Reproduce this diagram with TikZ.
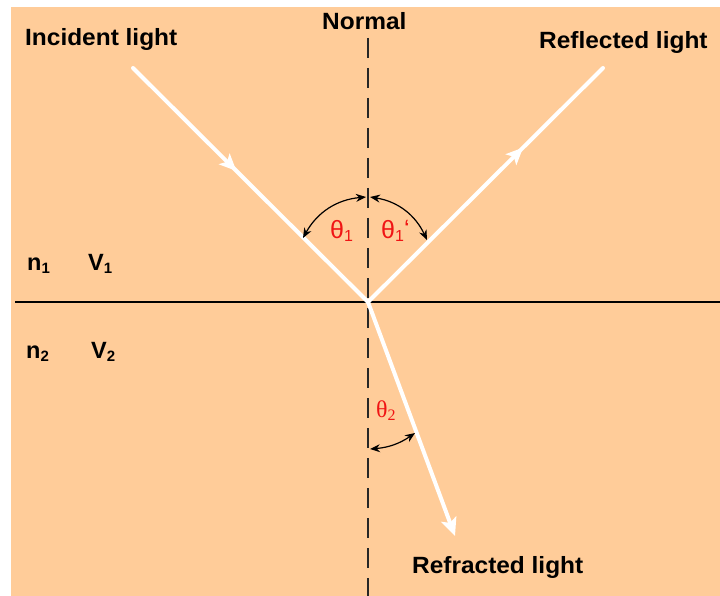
\documentclass[tikz,border=0pt]{standalone}
\usepackage{fontspec}
\setmainfont{Liberation Sans}
\newfontfamily\thserif{Liberation Serif}
\usetikzlibrary{arrows.meta,decorations.markings}
\definecolor{peach}{RGB}{255,204,153}
\definecolor{thred}{RGB}{240,20,20}
\newcommand{\lsub}[1]{\raisebox{-3.5pt}{\fontsize{15}{15}\selectfont #1}}
\newcommand{\tsub}[1]{\raisebox{-3.5pt}{\fontsize{16}{16}\selectfont #1}}
\begin{document}
\begin{tikzpicture}[x=1pt,y=-1pt,
  lbl/.style={font=\fontsize{23.5}{27}\selectfont\bfseries, inner sep=0pt, anchor=base west},
  medium/.style={font=\fontsize{23.5}{27}\selectfont\bfseries, inner sep=0pt, anchor=base west},
  thlbl/.style={font=\fontsize{25}{28}\selectfont, text=thred, inner sep=0pt, anchor=base west},
  ray/.style={white, line width=4pt, line cap=round},
  ang/.style={black, line width=1.2pt, {Stealth[length=10pt,width=8pt]}-{Stealth[length=10pt,width=8pt]}},
  normalline/.style={black!85, line width=2.4pt, dash pattern=on 20pt off 10pt},
  surface/.style={black, line width=2.2pt}
]
\useasboundingbox (0,0) rectangle (720,596);
\fill[peach] (11,7) rectangle (720,596);

% key points
\coordinate (O) at (368,302);
\coordinate (I) at (133,68);
\coordinate (R) at (603,68);
\coordinate (T) at (455,536);
\coordinate (Ntop) at (368,38);
\coordinate (Nbot) at (368,596);
\coordinate (L1) at (15,302);
\coordinate (L2) at (720,302);

% normal and surface
\draw[normalline] (Ntop) -- (Nbot);
\draw[surface] (L1) -- (L2);

% rays
\draw[ray, postaction={decorate}, decoration={markings, mark=at position 0.44 with {\arrow[white]{Stealth[length=17pt,width=15pt,inset=4pt]}}}] (I) -- (O);
\draw[ray, postaction={decorate}, decoration={markings, mark=at position 0.66 with {\arrow[white]{Stealth[length=17pt,width=15pt,inset=4pt]}}}] (O) -- (R);
\draw[ray, -{Stealth[length=18pt,width=16pt,inset=4pt]}] (O) -- (T);

% angle arcs
\coordinate (a1) at (303,238);
\coordinate (b1) at (366,197);
\coordinate (a2) at (427,240);
\coordinate (b2) at (370,197);
\coordinate (a3) at (415,433);
\coordinate (b3) at (370,449);
\draw[ang] (b1) to[bend right=28] (a1);
\draw[ang] (b2) to[bend left=28] (a2);
\draw[ang] (a3) to[bend left=15] (b3);

% labels
\node[lbl] (inc) at (25,46) {\scalebox{1.04}[1]{Incident light}};
\node[lbl] (refl) at (539,49) {\scalebox{1.04}[1]{Reflected light}};
\node[lbl] (norm) at (322,30) {\scalebox{1.04}[1]{Normal}};
\node[lbl] (refr) at (412,573) {\scalebox{1.04}[1]{Refracted light}};

\node[medium] (n1) at (27,270) {n\lsub{1}};
\node[medium] (v1) at (88,270) {V\lsub{1}};
\node[medium] (n2) at (26,358) {n\lsub{2}};
\node[medium] (v2) at (91,358) {V\lsub{2}};

\node[thlbl] (t1) at (330,238) {θ\tsub{1}};
\node[thlbl] (t1p) at (381,238) {θ\tsub{1}\raisebox{1pt}{`}};
\node[thlbl, font=\fontsize{24}{28}\thserif] (t2) at (376,417) {θ\tsub{2}};
\end{tikzpicture}
\end{document}
